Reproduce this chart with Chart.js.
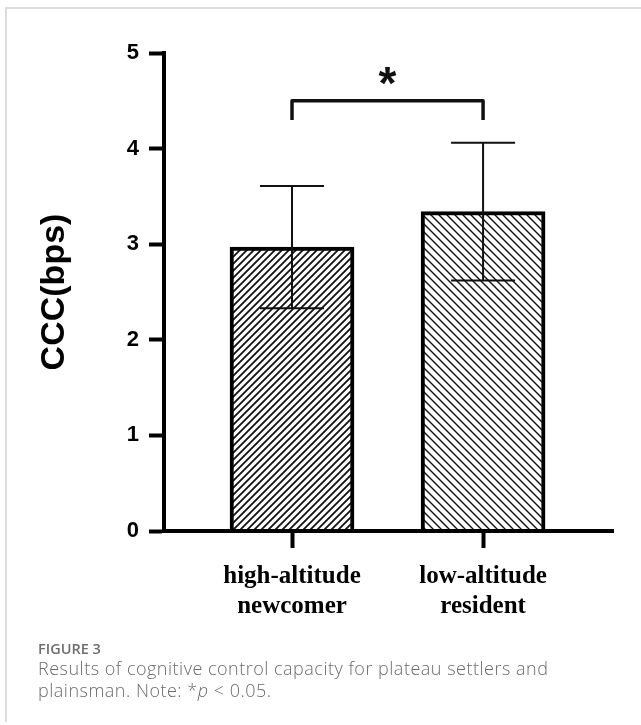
<!DOCTYPE html>
<html>
<head>
<meta charset="utf-8">
<script src="https://cdn.jsdelivr.net/npm/chart.js@4.4.1/dist/chart.umd.min.js"></script>
<style>
    body { margin: 0; background: #fff; width: 641px; height: 725px; overflow: hidden; position: relative; font-family: "Open Sans", sans-serif; }
    .frame { position: absolute; left: 5px; top: 7px; width: 650px; height: 713px; border-left: 2px solid #dcdcdc; border-top: 2px solid #dcdcdc; }
    #chart { position: absolute; left: 0; top: 0; }
    .fig { position: absolute; left: 38px; top: 639px; font-size: 14.5px; line-height: 20px; color: #6e6e6e; font-weight: 600; }
    .cap { position: absolute; left: 38px; top: 657px; width: 570px; font-size: 18px; line-height: 22px; letter-spacing: 0.5px; color: #6b6b6b; font-weight: 300; }
</style>
</head>
<body>
<div class="frame"></div>
<canvas id="chart" width="641" height="640"></canvas>
<div class="fig">FIGURE 3</div>
<div class="cap">Results of cognitive control capacity for plateau settlers and plainsman. Note: *<i>p</i> &lt; 0.05.</div>

<script>
    // Data
    var groups = [["high-altitude", "newcomer"], ["low-altitude", "resident"]];
    var positions = [1, 2];
    var means = [2.97, 3.34];
    var sds = [0.64, 0.72];
    var sigPair = [1, 2];
    var sigLevel = 4.5;
    var sigMark = "*";

    // Hatch fill for the bars
    function hatch(dir, size, lw) {
        var c = document.createElement("canvas");
        c.width = size; c.height = size;
        var g = c.getContext("2d");
        g.fillStyle = "#fff";
        g.fillRect(0, 0, size, size);
        g.strokeStyle = "#111";
        g.lineWidth = lw;
        g.beginPath();
        if (dir === "/") {
            g.moveTo(-1, 1); g.lineTo(1, -1);
            g.moveTo(0, size); g.lineTo(size, 0);
            g.moveTo(size - 1, size + 1); g.lineTo(size + 1, size - 1);
        } else {
            g.moveTo(-1, size - 1); g.lineTo(1, size + 1);
            g.moveTo(0, 0); g.lineTo(size, size);
            g.moveTo(size - 1, -1); g.lineTo(size + 1, 1);
        }
        g.stroke();
        return g.createPattern(c, "repeat");
    }

    // Error bars and the significance bracket
    var extras = {
        id: "extras",
        afterDatasetsDraw: function (chart) {
            var ctx = chart.ctx, x = chart.scales.x, y = chart.scales.y;
            ctx.save();
            ctx.strokeStyle = "#111";
            ctx.lineWidth = 2;
            means.forEach(function (m, i) {
                var px = x.getPixelForValue(positions[i]);
                var top = y.getPixelForValue(m + sds[i]);
                var bot = y.getPixelForValue(m - sds[i]);
                ctx.beginPath();
                ctx.moveTo(px, top); ctx.lineTo(px, bot);
                ctx.moveTo(px - 32, top); ctx.lineTo(px + 32, top);
                ctx.moveTo(px - 32, bot); ctx.lineTo(px + 32, bot);
                ctx.stroke();
            });

            var x1 = x.getPixelForValue(sigPair[0]), x2 = x.getPixelForValue(sigPair[1]);
            var yb = y.getPixelForValue(sigLevel), yd = y.getPixelForValue(sigLevel - 0.2);
            ctx.lineWidth = 3.5;
            ctx.lineJoin = "round";
            ctx.beginPath();
            ctx.moveTo(x1, yd); ctx.lineTo(x1, yb); ctx.lineTo(x2, yb); ctx.lineTo(x2, yd);
            ctx.stroke();
            ctx.fillStyle = "#111";
            ctx.font = "bold 46px 'Liberation Sans', Arial, sans-serif";
            ctx.textAlign = "center";
            ctx.textBaseline = "alphabetic";
            ctx.fillText(sigMark, (x1 + x2) / 2, yb - 2);
            ctx.restore();
        }
    };

    var ctx = document.getElementById("chart").getContext("2d");
    new Chart(ctx, {
        type: "bar",
        data: {
            datasets: [{
                data: positions.map(function (p, i) { return { x: p, y: means[i] }; }),
                backgroundColor: [hatch("/", 7, 1.8), hatch("\\", 8, 1.4)],
                borderColor: "#000",
                borderWidth: 4,
                borderSkipped: "bottom",
                barThickness: 124
            }]
        },
        options: {
            responsive: false,
            animation: false,
            layout: { padding: { top: 53, right: 28, left: 0, bottom: 0 } },
            plugins: {
                legend: { display: false },
                tooltip: { enabled: false }
            },
            scales: {
                x: {
                    type: "linear",
                    offset: false,
                    min: 0.33,
                    max: 2.68,
                    afterBuildTicks: function (s) {
                        s.ticks = positions.map(function (p) { return { value: p }; });
                    },
                    afterFit: function (s) { s.height = 109; },
                    grid: { offset: false, drawOnChartArea: false, tickLength: 17, tickWidth: 4, tickColor: "#000", z: 1 },
                    border: { width: 4, color: "#000", z: 1 },
                    ticks: {
                        autoSkip: false,
                        maxRotation: 0,
                        padding: 13,
                        color: "#000",
                        font: { family: "'Liberation Serif', 'Times New Roman', serif", size: 25, weight: "bold", lineHeight: 1.22 },
                        callback: function (v, i) { return groups[i]; }
                    }
                },
                y: {
                    min: 0,
                    max: 5,
                    afterFit: function (s) { s.width = 164; },
                    grid: { drawOnChartArea: false, tickLength: 15, tickWidth: 4, tickColor: "#000", z: 1 },
                    border: { width: 4, color: "#000", z: 1 },
                    ticks: {
                        stepSize: 1,
                        padding: 10,
                        color: "#000",
                        font: { family: "'Liberation Sans', Arial, sans-serif", size: 22, weight: "bold" }
                    },
                    title: {
                        display: true,
                        text: "CCC(bps)",
                        color: "#000",
                        padding: { top: 34, bottom: 0 },
                        font: { family: "'Liberation Sans', Arial, sans-serif", size: 34, weight: "bold" }
                    }
                }
            }
        },
        plugins: [extras]
    });
</script>
</body>
</html>
